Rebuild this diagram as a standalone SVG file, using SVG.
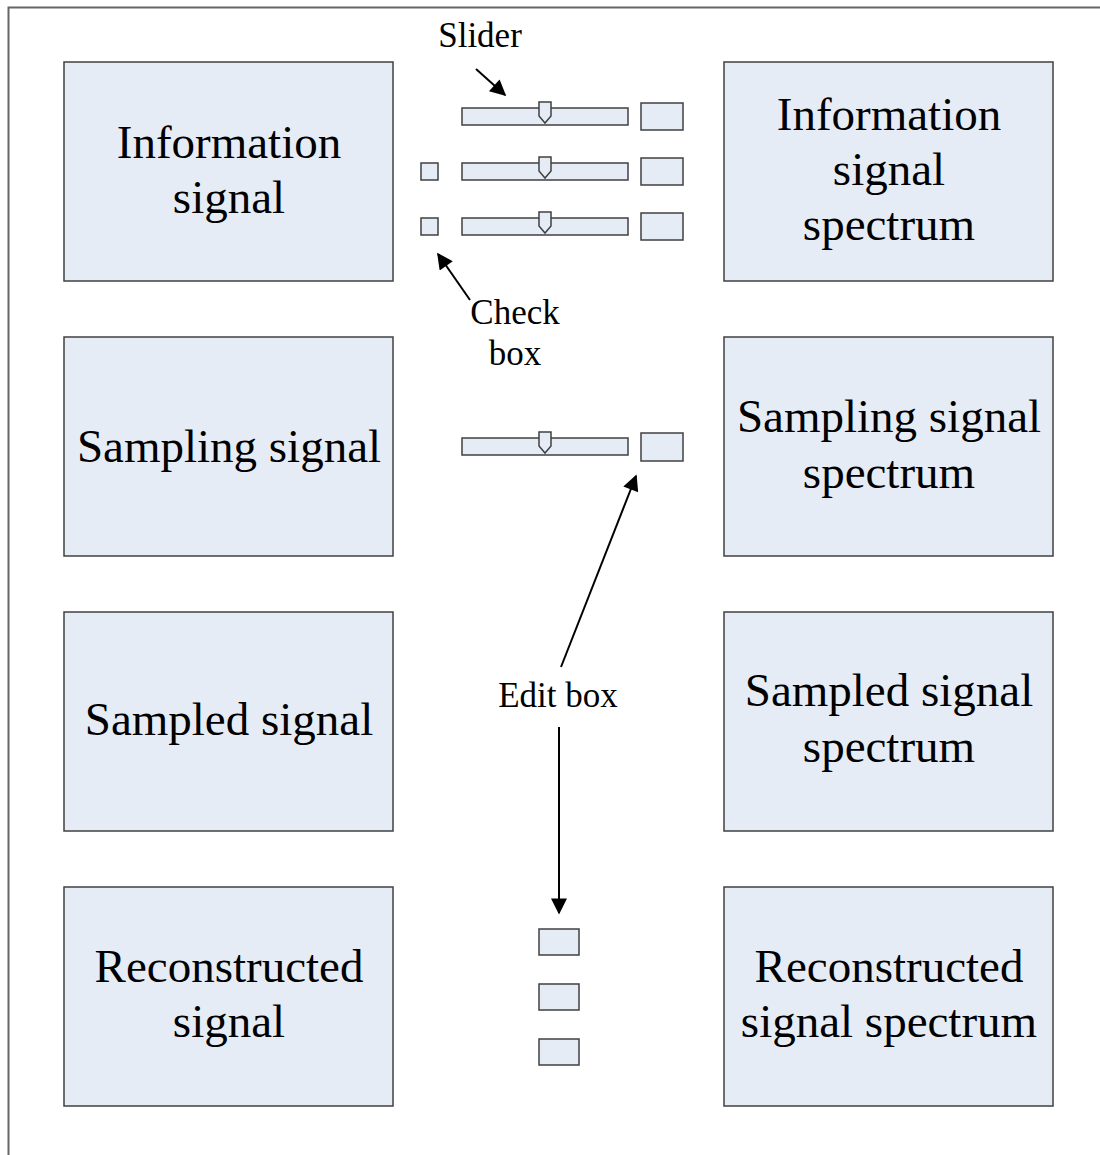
<svg xmlns="http://www.w3.org/2000/svg" width="1100" height="1155" viewBox="0 0 1100 1155">
<style>
.panel{fill:#e6ecf6;stroke:#404040;stroke-width:1.5}
.ctl{fill:#e6ecf6;stroke:#404040;stroke-width:1.5}
.big{font-family:"Liberation Serif","Times New Roman",serif;font-size:47px;fill:#000;text-anchor:middle}
.small{font-family:"Liberation Serif","Times New Roman",serif;font-size:35px;fill:#000;text-anchor:middle}
.conn{stroke:#000;stroke-width:2;fill:none;marker-end:url(#ah)}
</style>
<defs>
<marker id="ah" viewBox="0 0 10 10" refX="9" refY="5" markerWidth="9" markerHeight="8" markerUnits="strokeWidth" orient="auto">
<path d="M0,0 L10,5 L0,10 z" fill="#000"/>
</marker>
</defs>
<rect x="0" y="0" width="1100" height="1155" fill="#fff"/>
<rect x="8.5" y="7.5" width="1100" height="1160" fill="none" stroke="#666" stroke-width="2"/>

<g id="info-signal"><rect class="panel" x="64" y="62" width="329" height="219"/><text class="big" x="229" y="158">Information</text><text class="big" x="229" y="213">signal</text></g>
<g id="info-spectrum"><rect class="panel" x="724" y="62" width="329" height="219"/><text class="big" x="889" y="130">Information</text><text class="big" x="889" y="185">signal</text><text class="big" x="889" y="240">spectrum</text></g>
<g id="sampling-signal"><rect class="panel" x="64" y="337" width="329" height="219"/><text class="big" x="229" y="462">Sampling signal</text></g>
<g id="sampling-spectrum"><rect class="panel" x="724" y="337" width="329" height="219"/><text class="big" x="889" y="432">Sampling signal</text><text class="big" x="889" y="488">spectrum</text></g>
<g id="sampled-signal"><rect class="panel" x="64" y="612" width="329" height="219"/><text class="big" x="229" y="735">Sampled signal</text></g>
<g id="sampled-spectrum"><rect class="panel" x="724" y="612" width="329" height="219"/><text class="big" x="889" y="706">Sampled signal</text><text class="big" x="889" y="762">spectrum</text></g>
<g id="reconstructed-signal"><rect class="panel" x="64" y="887" width="329" height="219"/><text class="big" x="229" y="982">Reconstructed</text><text class="big" x="229" y="1037">signal</text></g>
<g id="reconstructed-spectrum"><rect class="panel" x="724" y="887" width="329" height="219"/><text class="big" x="889" y="982">Reconstructed</text><text class="big" x="889" y="1037">signal spectrum</text></g>

<g id="slider1"><rect class="ctl" x="462" y="108" width="166" height="17"/><path class="ctl" d="M539,102 H551 V116 L545,123 L539,116 Z"/></g>
<g id="slider2"><rect class="ctl" x="462" y="163" width="166" height="17"/><path class="ctl" d="M539,157 H551 V171 L545,178 L539,171 Z"/></g>
<g id="slider3"><rect class="ctl" x="462" y="218" width="166" height="17"/><path class="ctl" d="M539,212 H551 V226 L545,233 L539,226 Z"/></g>
<g id="slider4"><rect class="ctl" x="462" y="438" width="166" height="17"/><path class="ctl" d="M539,432 H551 V446 L545,453 L539,446 Z"/></g>
<g id="edit1"><rect class="ctl" x="641" y="103" width="42" height="27"/></g>
<g id="edit2"><rect class="ctl" x="641" y="158" width="42" height="27"/></g>
<g id="edit3"><rect class="ctl" x="641" y="213" width="42" height="27"/></g>
<g id="edit4"><rect class="ctl" x="641" y="433" width="42" height="28"/></g>
<g id="check1"><rect class="ctl" x="421" y="163" width="17" height="17"/></g>
<g id="check2"><rect class="ctl" x="421" y="218" width="17" height="17"/></g>
<g id="edit5"><rect class="ctl" x="539" y="929" width="40" height="26"/></g>
<g id="edit6"><rect class="ctl" x="539" y="984" width="40" height="26"/></g>
<g id="edit7"><rect class="ctl" x="539" y="1039" width="40" height="26"/></g>

<g id="label-slider"><text class="small" x="480" y="47">Slider</text></g>
<g id="label-check"><text class="small" x="515" y="324">Check</text><text class="small" x="515" y="365">box</text></g>
<g id="label-edit"><text class="small" x="558" y="707">Edit box</text></g>

<g id="connectors">
<line class="conn" x1="476" y1="69" x2="505" y2="95"/>
<line class="conn" x1="470" y1="300" x2="438" y2="254"/>
<line class="conn" x1="561" y1="667" x2="636" y2="476"/>
<line class="conn" x1="559" y1="727" x2="559" y2="913"/>
</g>
</svg>
